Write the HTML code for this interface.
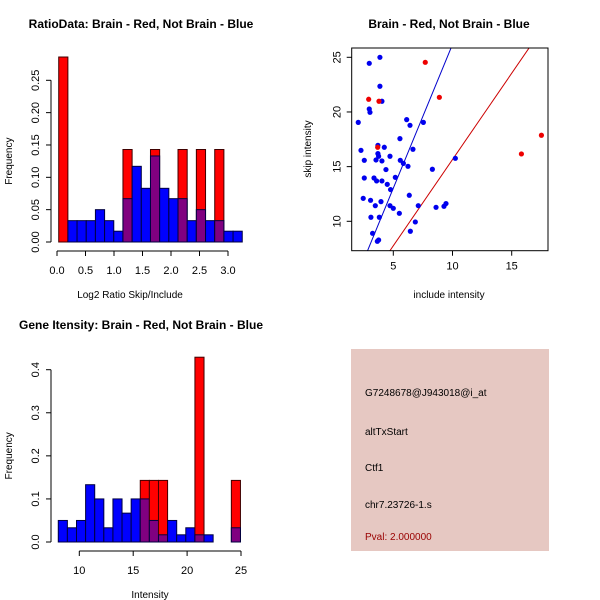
<!DOCTYPE html>
<html><head><meta charset="utf-8"><style>
html,body{margin:0;padding:0;background:#fff;}
svg{display:block;font-family:"Liberation Sans",sans-serif;}
</style></head><body>
<svg id="c" width="600" height="600" viewBox="0 0 600 600" xmlns="http://www.w3.org/2000/svg"></svg>
<script>
// ---- Panel 1 data: Log2 ratio histogram ----
const ratioBinStart = 0.03;
const ratioBinWidth = 0.161;
const ratioRed  = [0.286,0,0,0,0,0,0,0.143,0,0,0.143,0,0,0.143,0,0.143,0,0.143,0,0];
const ratioBlue = [0,0.033,0.033,0.033,0.05,0.033,0.0167,0.067,0.117,0.083,0.133,0.083,0.067,0.067,0.033,0.05,0.033,0.033,0.0167,0.0167];
const ratioYTicks = [0,0.05,0.10,0.15,0.20,0.25];
const ratioYLabels = ["0.00","0.05","0.10","0.15","0.20","0.25"];
const ratioXTicks = [0,0.5,1,1.5,2,2.5,3];
const ratioXLabels = ["0.0","0.5","1.0","1.5","2.0","2.5","3.0"];
// ---- Panel 2 data: scatter ----
const blueX = [2.04,2.27,2.55,2.55,2.46,2.97,2.97,3.03,3.08,3.11,3.25,3.37,3.48,3.54,3.59,3.65,3.70,3.70,3.76,3.76,3.82,3.87,3.87,3.96,4.04,4.04,4.04,4.24,4.38,4.49,4.72,4.77,4.72,5.0,5.17,5.51,5.56,5.59,5.85,6.13,6.24,6.35,6.41,6.44,6.66,6.86,7.11,7.54,8.30,8.61,9.28,9.45,10.24];
const blueY = [19.05,16.49,15.58,13.96,12.10,24.45,20.27,19.97,11.92,10.37,8.90,13.96,11.43,15.61,13.69,8.17,16.95,16.19,8.29,15.95,10.37,25.0,22.35,11.80,20.98,15.52,13.69,16.77,14.73,13.38,15.95,12.90,11.43,11.19,14.02,10.73,17.56,15.58,15.30,19.30,15.03,12.38,18.78,9.09,16.59,9.94,11.43,19.05,14.76,11.28,11.37,11.62,15.76];
const redX = [2.92,3.79,3.68,7.70,8.89,15.82,17.51];
const redY = [21.16,20.98,16.77,24.54,21.34,16.16,17.87];
const blueLine = [-0.12, 2.63];   // intercept, slope
const redLine  = [-0.13, 1.578];
const scatXTicks = [5,10,15];
const scatYTicks = [10,15,20,25];
// ---- Panel 3 data: gene intensity histogram ----
const intBinStart = 8.05;
const intBinWidth = 0.845;
const intRed  = [0,0,0,0,0,0,0,0,0,0.143,0.143,0.143,0,0,0,0.429,0,0,0,0.143];
const intBlue = [0.05,0.033,0.05,0.133,0.1,0.033,0.1,0.067,0.1,0.1,0.05,0.0167,0.05,0.0167,0.033,0.0167,0.0167,0,0,0.033];
const intYTicks = [0,0.1,0.2,0.3,0.4];
const intYLabels = ["0.0","0.1","0.2","0.3","0.4"];
const intXTicks = [10,15,20,25];
// ---- Panel 4 text ----
const infoLines = ["G7248678@J943018@i_at","altTxStart","Ctf1","chr7.23726-1.s"];
const infoY = [396,435,471,508];

const NS="http://www.w3.org/2000/svg";
const svg=document.getElementById('c');
function mk(tag,attrs,parent){const e=document.createElementNS(NS,tag);for(const k in attrs)e.setAttribute(k,attrs[k]);(parent||svg).appendChild(e);return e;}
function txt(s,x,y,opt,parent){const e=mk('text',Object.assign({x:x,y:y,'font-size':11,'text-anchor':'middle',fill:'#000'},opt||{}),parent);e.textContent=s;return e;}
function lin(d0,d1,p0,p1){return v=>p0+(v-d0)*(p1-p0)/(d1-d0);}

function histPanel(name,sx,sy,binStart,binW,red,blue,yT,yL,xT,xL,axisX,axisY,title,titleX,titleY,xTitle,xTitleX,xTitleY){
  const g=mk('g',{});
  
  
  const y0=sy(0);
  for(let i=0;i<red.length;i++){
    const a=sx(binStart+i*binW), b=sx(binStart+(i+1)*binW);
    if(red[i]>0){const r=mk('rect',{x:a,y:sy(red[i]),width:b-a,height:y0-sy(red[i]),fill:'#ff0000',stroke:'#400000','stroke-width':1},g);
      }
    if(blue[i]>0){
      const ov=Math.min(red[i],blue[i]);
      const col=ov>0?'#800080':'#0000ff';
      const r=mk('rect',{x:a,y:sy(blue[i]),width:b-a,height:y0-sy(blue[i]),fill:col,stroke:'#000040','stroke-width':1},g);
      }
  }
  const ya=mk('g',{},g);
  mk('line',{x1:axisX,x2:axisX,y1:sy(yT[0]),y2:sy(yT[yT.length-1]),stroke:'#000'},ya);
  yT.forEach((v,i)=>{const y=sy(v);mk('line',{x1:axisX,x2:axisX-5,y1:y,y2:y,stroke:'#000'},ya);
    txt(yL[i],axisX-12,y,{transform:`rotate(-90 ${axisX-12} ${y})`},ya);});
  const ym=(sy(yT[0])+sy(yT[yT.length-1]))/2;
  const yt=txt('Frequency',12,ym,{'font-size':10,transform:`rotate(-90 12 ${ym})`},g);
  
  const xa=mk('g',{},g);
  mk('line',{x1:sx(xT[0]),x2:sx(xT[xT.length-1]),y1:axisY,y2:axisY,stroke:'#000'},xa);
  xT.forEach((v,i)=>{const x=sx(v);mk('line',{x1:x,x2:x,y1:axisY,y2:axisY+5,stroke:'#000'},xa);txt(xL[i],x,axisY+23,{},xa);});
  const xt=txt(xTitle,xTitleX,xTitleY,{'font-size':10},g);
  
  const t=txt(title,titleX,titleY,{'font-weight':'bold','font-size':12},g);
  
}
histPanel('ratio-histogram',lin(0,3,57,228),lin(0,0.25,242,80.3),ratioBinStart,ratioBinWidth,ratioRed,ratioBlue,
  ratioYTicks,ratioYLabels,ratioXTicks,ratioXLabels,51,251,'RatioData: Brain - Red, Not Brain - Blue',141,28,'Log2 Ratio Skip/Include',130,298);
histPanel('intensity-histogram',lin(10,25,79.3,241),lin(0,0.4,542,369.7),intBinStart,intBinWidth,intRed,intBlue,
  intYTicks,intYLabels,intXTicks,intXTicks.map(String),51,551,'Gene Itensity: Brain - Red, Not Brain - Blue',141,329,'Intensity',150,598);

(function(){
  const g=mk('g',{});
  
  
  const sx=lin(5,15,393.3,511.7), sy=lin(10,25,221.3,57.3);
  const L=351.7,R=548,T=48,B=250.7;
  const cp=mk('clipPath',{id:'clp'},g);
  mk('rect',{x:L,y:T,width:R-L,height:B-T},cp);
  const dx0=(L-393.3)/11.84+5, dx1=(R-393.3)/11.84+5;
  [[blueLine,'#0000cc','blue-fit-line'],[redLine,'#cc0000','red-fit-line']].forEach(([ln,c,n])=>{
    const l=mk('line',{x1:sx(dx0),y1:sy(ln[0]+ln[1]*dx0),x2:sx(dx1),y2:sy(ln[0]+ln[1]*dx1),stroke:c,'stroke-width':1,'clip-path':'url(#clp)'},g);
    });
  blueX.forEach((x,i)=>{const p=mk('circle',{cx:sx(x),cy:sy(blueY[i]),r:2.6,fill:'#0000ee'},g);
    });
  redX.forEach((x,i)=>{const p=mk('circle',{cx:sx(x),cy:sy(redY[i]),r:2.6,fill:'#ee0000'},g);
    });
  const box=mk('rect',{x:L,y:T,width:R-L,height:B-T,fill:'none',stroke:'#000'},g);
  
  scatXTicks.forEach(v=>{const x=sx(v);mk('line',{x1:x,x2:x,y1:B,y2:B+5,stroke:'#000'},g);txt(String(v),x,B+19,{},g);});
  scatYTicks.forEach(v=>{const y=sy(v);mk('line',{x1:L,x2:L-5,y1:y,y2:y,stroke:'#000'},g);txt(String(v),L-11,y,{transform:`rotate(-90 ${L-11} ${y})`},g);});
  const xt=txt('include intensity',449,298,{'font-size':10},g);
  const yt=txt('skip intensity',311,149,{'font-size':10,transform:'rotate(-90 311 149)'},g);
  const t=txt('Brain - Red, Not Brain - Blue',449,28,{'font-weight':'bold','font-size':12},g);
})();

(function(){
  const g=mk('g',{});
  
  
  mk('rect',{x:351,y:349,width:198,height:202,fill:'#e6c8c2'},g);
  infoLines.forEach((s,i)=>{const t=txt(s,365,infoY[i],{'text-anchor':'start','font-size':10},g);
    });
  const p=txt('Pval: 2.000000',365,540,{'text-anchor':'start','font-size':10,fill:'#990000'},g);
  
})();
</script>
</body></html>
